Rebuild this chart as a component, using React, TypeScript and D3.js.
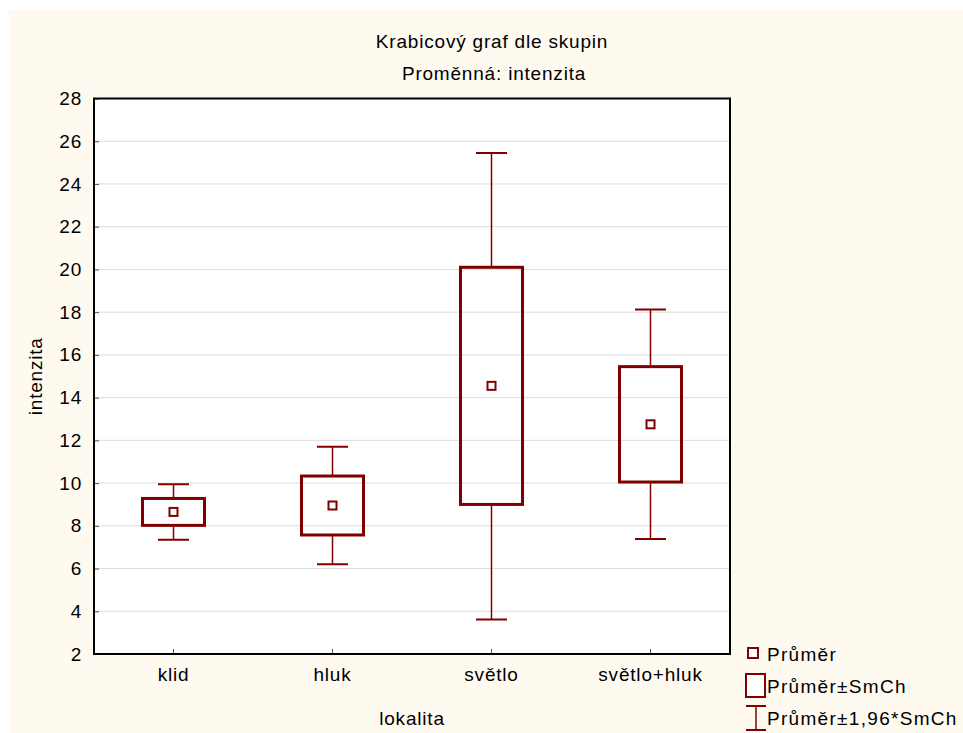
import React, { useEffect, useRef } from "react";
import * as d3 from "d3";

// skupiny (lokalita)
const categories = ["klid", "hluk", "světlo", "světlo+hluk"];
// průměr
const means = [8.65, 8.95, 14.55, 12.75];
// průměr ± SmCh
const boxLow = [8.02, 7.57, 9.0, 10.05];
const boxHigh = [9.28, 10.33, 20.1, 15.45];
// průměr ± 1,96*SmCh
const whiskerLow = [7.35, 6.2, 3.62, 7.38];
const whiskerHigh = [9.95, 11.7, 25.45, 18.12];

const yTicks = [2, 4, 6, 8, 10, 12, 14, 16, 18, 20, 22, 24, 26, 28];
const legendLabels = ["Průměr", "Průměr±SmCh", "Průměr±1,96*SmCh"];

const W = 963;
const H = 733;
const RED = "#800000";
const FONT = "Liberation Sans, Arial, sans-serif";
const FS = 19;
const LS = 0.8;

const App = () => {
    const ref = useRef<SVGSVGElement | null>(null);

    useEffect(() => {
        const svg = d3.select(ref.current);
        svg.selectAll("*").remove();

        const left = 94, right = 730, top = 98.5, bottom = 654;

        svg.append("rect")
            .attr("x", 9).attr("y", 10)
            .attr("width", W - 9).attr("height", H - 10)
            .attr("fill", "#fffaf0");

        const x = d3.scaleBand().domain(categories).range([left, right]).padding(0);
        const y = d3.scaleLinear().domain([2, 28]).range([bottom, top]);

        svg.append("rect")
            .attr("x", left).attr("y", top)
            .attr("width", right - left).attr("height", bottom - top)
            .attr("fill", "#ffffff");

        // mřížka
        svg.append("g")
            .selectAll("line")
            .data(yTicks.slice(1, -1))
            .join("line")
            .attr("x1", left).attr("x2", right)
            .attr("y1", (d) => y(d)).attr("y2", (d) => y(d))
            .attr("stroke", "#dcdcdc")
            .attr("stroke-width", 1);

        // osy
        const yAxis = svg.append("g")
            .attr("transform", `translate(${left},0)`)
            .call(d3.axisLeft(y).tickValues(yTicks).tickSize(-5).tickPadding(12));
        yAxis.select(".domain").remove();
        yAxis.selectAll("line").attr("stroke", "#555");
        yAxis.selectAll("text")
            .attr("font-family", FONT).attr("font-size", FS)
            .attr("letter-spacing", LS).attr("fill", "#000");

        const xAxis = svg.append("g")
            .attr("transform", `translate(0,${bottom})`)
            .call(d3.axisBottom(x).tickSize(-5).tickPadding(14));
        xAxis.select(".domain").remove();
        xAxis.selectAll("line").attr("stroke", "#555");
        xAxis.selectAll("text")
            .attr("font-family", FONT).attr("font-size", FS)
            .attr("letter-spacing", LS).attr("fill", "#000");

        svg.append("rect")
            .attr("x", left).attr("y", top)
            .attr("width", right - left).attr("height", bottom - top)
            .attr("fill", "none").attr("stroke", "#000").attr("stroke-width", 2);

        // krabice
        const boxW = x.bandwidth() * 0.39;
        const capW = boxW / 2;
        const g = svg.append("g")
            .selectAll("g")
            .data(categories.map((c, i) => ({ c, i })))
            .join("g")
            .attr("transform", (d) => `translate(${x(d.c)! + x.bandwidth() / 2},0)`);

        g.append("line")
            .attr("x1", 0).attr("x2", 0)
            .attr("y1", (d) => y(whiskerHigh[d.i])).attr("y2", (d) => y(boxHigh[d.i]))
            .attr("stroke", RED).attr("stroke-width", 1.5);
        g.append("line")
            .attr("x1", 0).attr("x2", 0)
            .attr("y1", (d) => y(boxLow[d.i])).attr("y2", (d) => y(whiskerLow[d.i]))
            .attr("stroke", RED).attr("stroke-width", 1.5);
        g.append("line")
            .attr("x1", -capW / 2).attr("x2", capW / 2)
            .attr("y1", (d) => y(whiskerHigh[d.i])).attr("y2", (d) => y(whiskerHigh[d.i]))
            .attr("stroke", RED).attr("stroke-width", 2);
        g.append("line")
            .attr("x1", -capW / 2).attr("x2", capW / 2)
            .attr("y1", (d) => y(whiskerLow[d.i])).attr("y2", (d) => y(whiskerLow[d.i]))
            .attr("stroke", RED).attr("stroke-width", 2);
        g.append("rect")
            .attr("x", -boxW / 2).attr("width", boxW)
            .attr("y", (d) => y(boxHigh[d.i]))
            .attr("height", (d) => y(boxLow[d.i]) - y(boxHigh[d.i]))
            .attr("fill", "none").attr("stroke", RED).attr("stroke-width", 3);
        g.append("rect")
            .attr("x", -4).attr("width", 8)
            .attr("y", (d) => y(means[d.i]) - 4).attr("height", 8)
            .attr("fill", "#fff").attr("stroke", RED).attr("stroke-width", 2);

        // popisky
        const label = (tx: number, ty: number, t: string, rot = false) =>
            svg.append("text")
                .attr("transform", rot ? `translate(${tx},${ty}) rotate(-90)` : `translate(${tx},${ty})`)
                .attr("text-anchor", "middle")
                .attr("font-family", FONT).attr("font-size", FS)
                .attr("letter-spacing", LS)
                .text(t);
        label(492, 48, "Krabicový graf dle skupin");
        label(494, 80, "Proměnná: intenzita");
        label(42, (top + bottom) / 2, "intenzita", true);
        label(412, 725, "lokalita");

        // legenda
        const lg = svg.append("g")
            .attr("font-family", FONT).attr("font-size", FS).attr("letter-spacing", 1.3);
        lg.append("rect")
            .attr("x", 748).attr("y", 648).attr("width", 10).attr("height", 10)
            .attr("fill", "#fff").attr("stroke", RED).attr("stroke-width", 2);
        lg.append("rect")
            .attr("x", 746).attr("y", 674).attr("width", 19).attr("height", 23)
            .attr("fill", "#fff").attr("stroke", RED).attr("stroke-width", 2);
        lg.append("line")
            .attr("x1", 756).attr("x2", 756).attr("y1", 706).attr("y2", 730)
            .attr("stroke", RED).attr("stroke-width", 1.5);
        lg.append("line")
            .attr("x1", 746).attr("x2", 766).attr("y1", 706).attr("y2", 706)
            .attr("stroke", RED).attr("stroke-width", 2);
        lg.append("line")
            .attr("x1", 746).attr("x2", 766).attr("y1", 730).attr("y2", 730)
            .attr("stroke", RED).attr("stroke-width", 2);
        lg.selectAll("text.lab")
            .data(legendLabels)
            .join("text")
            .attr("class", "lab")
            .attr("x", 767)
            .attr("y", (_, i) => 661 + i * 32)
            .text((d) => d);
    }, []);

    return (
        <svg
            ref={ref}
            width={W}
            height={H}
            style={{ position: "absolute", left: 0, top: 0, display: "block" }}
        />
    );
};

export default App;
